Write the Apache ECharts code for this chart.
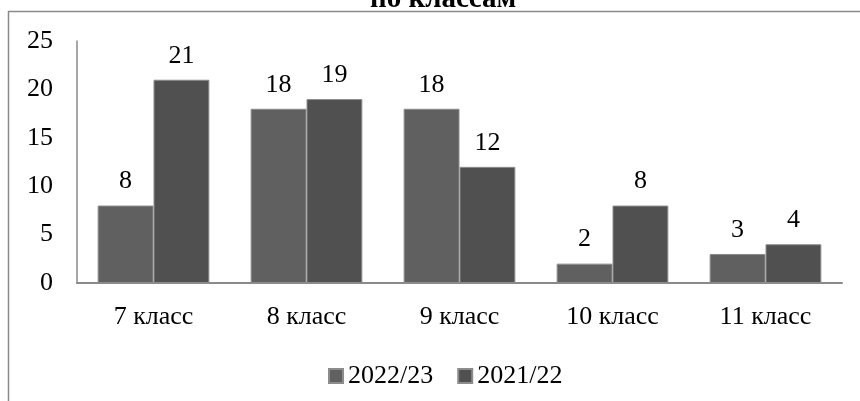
<!DOCTYPE html>
<html><head><meta charset="utf-8">
<script src="https://cdn.jsdelivr.net/npm/echarts@6/dist/echarts.min.js"></script>
<style>html,body{margin:0;padding:0;background:#fff}#c{width:860px;height:401px}</style>
</head><body><div id="c"></div>
<script>
const categories = ['7 класс', '8 класс', '9 класс', '10 класс', '11 класс'];
const series2022 = [8, 18, 18, 2, 3];
const series2021 = [21, 19, 12, 8, 4];
const seriesNames = ['2022/23', '2021/22'];
const titleText = 'по классам';

const F = 'Liberation Serif, Times New Roman, serif';
const FS = 26;
const chart = echarts.init(document.getElementById('c'));
chart.setOption({
  animation: false,
  backgroundColor: '#fff',
  title: { text: titleText, left: 370, top: -15, padding: 0,
    textStyle: { fontFamily: F, fontWeight: 'bold', fontSize: 29, color: '#000' } },
  graphic: [{ type: 'polyline', shape: { points: [[8.5, 410], [8.5, 11.5], [870, 11.5]] },
    style: { stroke: '#8a8a8a', lineWidth: 1.5, fill: null } }],
  legend: { data: seriesNames, left: 323, top: 358, itemWidth: 14, itemHeight: 14, itemGap: 24,
    icon: 'rect', textStyle: { fontFamily: F, fontSize: FS, color: '#000' } },
  grid: { left: 77, right: 18, top: 41, bottom: 118 },
  xAxis: { type: 'category', data: categories,
    axisLine: { lineStyle: { color: '#8a8a8a', width: 2 } }, axisTick: { show: false },
    axisLabel: { fontFamily: F, fontSize: FS, color: '#000', margin: 21 } },
  yAxis: { type: 'value', min: 0, max: 25, interval: 5,
    axisLine: { show: true, lineStyle: { color: '#8a8a8a', width: 1.5 } }, axisTick: { show: false },
    splitLine: { show: false },
    axisLabel: { fontFamily: F, fontSize: FS, color: '#000', margin: 24 } },
  series: [
    { name: seriesNames[0], type: 'bar', data: series2022, barGap: '0%', barCategoryGap: '27%',
      itemStyle: { color: '#606060', borderColor: '#8c8c8c', borderWidth: 1 },
      label: { show: true, position: 'top', distance: 11, fontFamily: F, fontSize: FS, color: '#000' } },
    { name: seriesNames[1], type: 'bar', data: series2021,
      itemStyle: { color: '#505050', borderColor: '#8c8c8c', borderWidth: 1 },
      label: { show: true, position: 'top', distance: 11, fontFamily: F, fontSize: FS, color: '#000' } }
  ]
});
</script></body></html>
